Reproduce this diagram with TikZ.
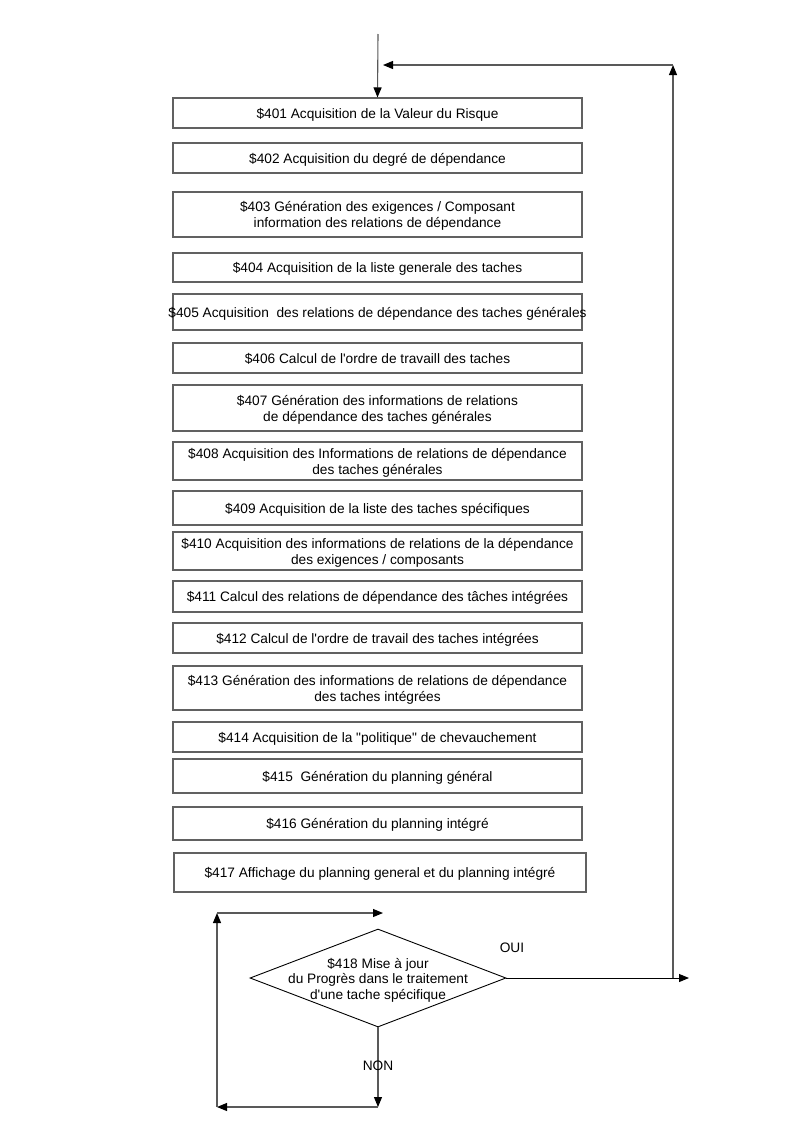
\documentclass[tikz,border=0pt]{standalone}
\usepackage{fontspec}
\newfontfamily\plainfont{Liberation Sans}
\usetikzlibrary{shapes.geometric,arrows.meta}
\tikzset{
  stepbox/.style={draw=black!62, line width=1.1pt, minimum width=409pt, minimum height=#1, inner sep=2pt, align=center, text depth=0pt, font=\plainfont\fontsize{13.7}{16}\selectfont},
  conn/.style={draw=black!65, line width=1.1pt, -{Triangle[length=10pt,width=8pt,color=black]}},
  lbl/.style={font=\plainfont\fontsize{13.7}{16}\selectfont, inner sep=0pt}
}
\begin{document}
\begin{tikzpicture}[x=1pt,y=-1pt]
\useasboundingbox[fill=white] (0,0) rectangle (793,1122);
\node[stepbox=30pt] (b401) at (377.5,113) {\$401 Acquisition de la Valeur du Risque};
\node[stepbox=30pt] (b402) at (377.5,158) {\$402 Acquisition du degré de dépendance};
\node[stepbox=45pt] (b403) at (377.5,214.5) {\$403 Génération des exigences / Composant\\information des relations de dépendance};
\node[stepbox=29pt] (b404) at (377.5,267.5) {\$404 Acquisition de la liste generale des taches};
\node[stepbox=36pt] (b405) at (377.5,312) {\makebox[390pt][c]{\$405 Acquisition\ \ des relations de dépendance des taches générales}};
\node[stepbox=30pt] (b406) at (377.5,358) {\$406 Calcul de l'ordre de travaill des taches};
\node[stepbox=46pt] (b407) at (377.5,408) {\$407 Génération des informations de relations\\de dépendance des taches générales};
\node[stepbox=38pt] (b408) at (377.5,461) {\$408 Acquisition des Informations de relations de dépendance\\des taches générales};
\node[stepbox=34pt] (b409) at (377.5,508) {\$409 Acquisition de la liste des taches spécifiques};
\node[stepbox=38pt] (b410) at (377.5,551) {\$410 Acquisition des informations de relations de la dépendance\\des exigences / composants};
\node[stepbox=31pt] (b411) at (377.5,596.5) {\$411 Calcul des relations de dépendance des tâches intégrées};
\node[stepbox=30pt] (b412) at (377.5,638) {\$412 Calcul de l'ordre de travail des taches intégrées};
\node[stepbox=44pt] (b413) at (377.5,688) {\$413 Génération des informations de relations de dépendance\\des taches intégrées};
\node[stepbox=30pt] (b414) at (377.5,737) {\$414 Acquisition de la "politique" de chevauchement};
\node[stepbox=34pt] (b415) at (377.5,776) {\$415\ \ Génération du planning général};
\node[stepbox=33pt] (b416) at (377.5,823.5) {\$416 Génération du planning intégré};
\node[stepbox=39pt, minimum width=412pt] (b417) at (380,872.5) {\$417 Affichage du planning general et du planning intégré};

\node[diamond, draw=black, line width=0.9pt, minimum width=256pt, minimum height=98pt, inner sep=0pt,
  label={[lbl, align=center, yshift=-2pt, font=\plainfont\fontsize{13.7}{15.5}\selectfont]center:\$418 Mise à jour\\du Progrès dans le traitement\\d'une tache spécifique}] (d418) at (378,978) {};

\coordinate (start) at (378,34);
\coordinate (ouiend) at (689,978);
\coordinate (rbot) at (673,978);
\coordinate (rtop) at (673,65);
\coordinate (ltop) at (383,65);
\coordinate (nonend) at (378,1107);
\coordinate (lbot) at (217,1107);
\coordinate (ltopl) at (217,913);
\coordinate (lret) at (383,913);

\draw[conn] (start) -- (b401.north);
\draw[conn, draw=black, line width=0.9pt] (d418.east) -- (ouiend);
\draw[conn] (rbot) -- (rtop);
\draw[conn] (rtop) -- (ltop);
\draw[conn] (d418.south) -- (nonend);
\draw[conn] (nonend) -- (lbot);
\draw[conn] (lbot) -- (ltopl);
\draw[conn] (ltopl) -- (lret);

\node[lbl] (oui) at (512,948) {OUI};
\node[lbl] (non) at (378,1066) {NON};
\end{tikzpicture}
\end{document}
